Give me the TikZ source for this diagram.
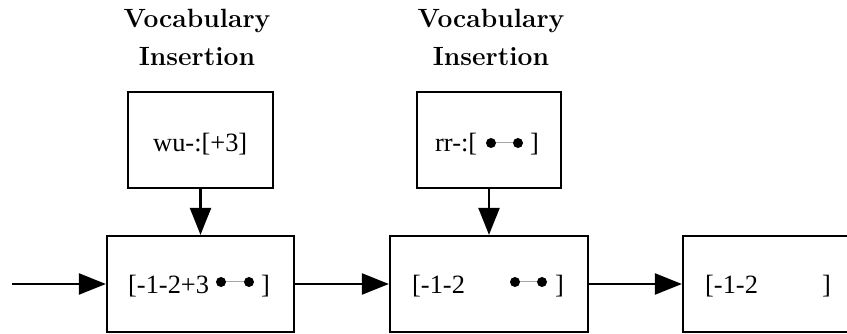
\documentclass[tikz,border=0pt]{standalone}
\usepackage{fontspec}
\setmainfont{Liberation Serif}
\newfontfamily\headfont{Latin Modern Roman}
\usetikzlibrary{arrows.meta}

\tikzset{
  box/.style={draw, line width=2.2pt, minimum height=96pt, inner sep=0pt},
  flow/.style={line width=2.2pt, -{Triangle[length=27pt,width=21pt]}},
  txt/.style={inner sep=0pt, font=\fontsize{26.4}{30}\selectfont},
  head/.style={inner sep=0pt, anchor=base, font=\headfont\bfseries\fontsize{26.4}{30}\selectfont},
  dot/.style={fill=black, draw=none},
  link/.style={draw=gray!70, line width=1pt}
}

\begin{document}
\begin{tikzpicture}[x=1pt,y=1pt]
  \useasboundingbox (0,0) rectangle (847,334);

  % headings above the two insertion boxes
  \node[head] (h1a) at (197,306) {Vocabulary};
  \node[head] (h1b) at (197,268) {Insertion};
  \node[head] (h2a) at (491,306) {Vocabulary};
  \node[head] (h2b) at (491,268) {Insertion};

  % vocabulary insertion boxes
  \node[box, minimum width=145pt] (v1) at (200.5,194) {};
  \node[box, minimum width=144pt] (v2) at (489,194) {};

  % state boxes
  \node[box, minimum width=187pt] (s1) at (200.5,50) {};
  \node[box, minimum width=198pt] (s2) at (489,50) {};
  \node[box, minimum width=198pt] (s3) at (782,50) {};

  % contents of insertion boxes
  \node[txt, anchor=base west] (t1) at (153,182) {wu-:[+3]};
  \node[txt, anchor=base west] (t2) at (435,182) {rr-:[};
  \node[txt, anchor=base east] (t2r) at (539,182) {]};
  \coordinate (t2d1) at (491,191);
  \coordinate (t2d2) at (518,191);
  \draw[link] (t2d1) -- (t2d2);
  \fill[dot] (t2d1) circle (5pt) (t2d2) circle (5pt);

  % contents of state boxes
  \node[txt, anchor=base west] (a1) at (128,40) {[-1-2+3};
  \node[txt, anchor=base east] (a1r) at (270,40) {]};
  \coordinate (a1d1) at (221,52);
  \coordinate (a1d2) at (249,52);
  \draw[link] (a1d1) -- (a1d2);
  \fill[dot] (a1d1) circle (5pt) (a1d2) circle (5pt);

  \node[txt, anchor=base west] (a2) at (412,40) {[-1-2};
  \node[txt, anchor=base east] (a2r) at (564,40) {]};
  \coordinate (a2d1) at (515,52);
  \coordinate (a2d2) at (542,52);
  \draw[link] (a2d1) -- (a2d2);
  \fill[dot] (a2d1) circle (5pt) (a2d2) circle (5pt);

  \node[txt, anchor=base west] (a3) at (705,40) {[-1-2};
  \node[txt, anchor=base east] (a3r) at (831,40) {]};

  % connectors
  \coordinate (start) at (12,50);
  \draw[flow] (start) -- (s1.west);
  \draw[flow] (s1.east) -- (s2.west);
  \draw[flow] (s2.east) -- (s3.west);
  \draw[flow] (v1.south) -- (s1.north);
  \draw[flow] (v2.south) -- (s2.north);
\end{tikzpicture}
\end{document}
